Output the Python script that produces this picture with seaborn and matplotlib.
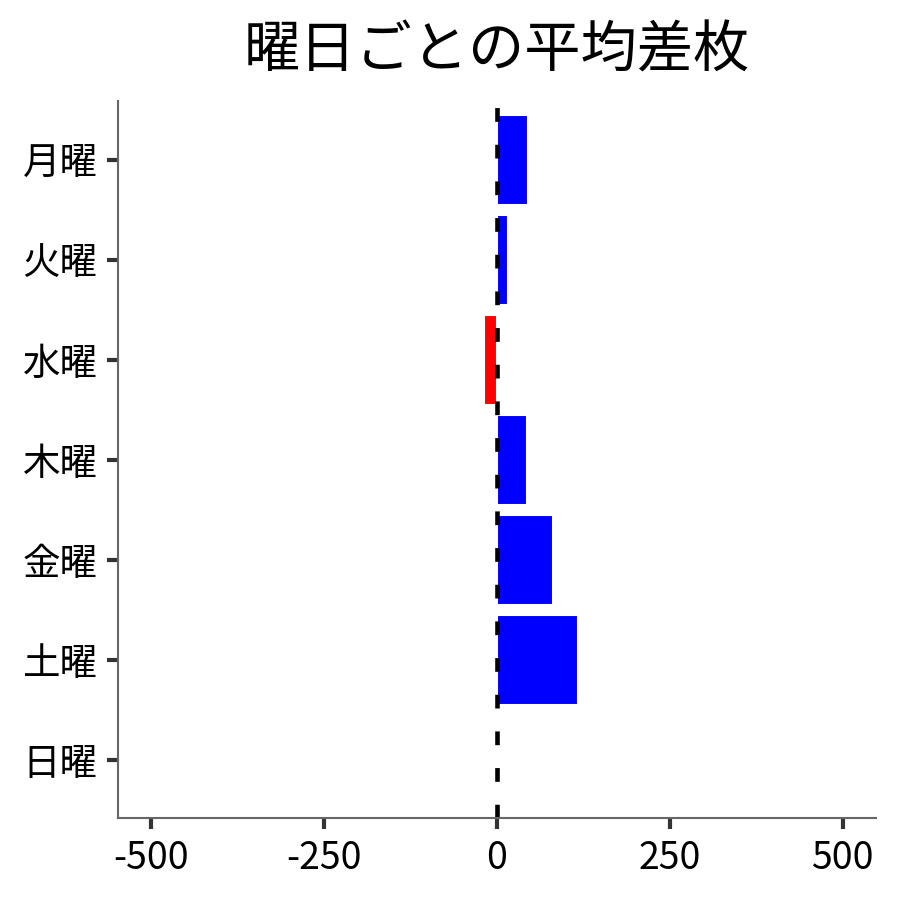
import numpy as np
import pandas as pd
import seaborn as sns
import matplotlib.pyplot as plt

# Data
days = ["月曜", "火曜", "水曜", "木曜", "金曜", "土曜", "日曜"]
avg_diff = [45, 16, -19, 43, 82, 117, 2]

dataset = pd.DataFrame({"曜日": days, "平均差枚": avg_diff})
bar_colors = ["#0000ff" if v >= 0 else "#ff0000" for v in avg_diff]

sns.set_style("white")
plt.rcParams["font.family"] = ["Noto Sans CJK JP", "DejaVu Sans"]
plt.rcParams["axes.unicode_minus"] = False

fig, ax = plt.subplots(figsize = (6, 6), dpi = 150)
fig.subplots_adjust(left = 0.131, right = 0.973, top = 0.888, bottom = 0.091)

sns.barplot(x = "平均差枚", y = "曜日", hue = "曜日", data = dataset, palette = bar_colors,
            orient = "h", width = 0.9, saturation = 1, legend = False, ax = ax)

ax.axvline(0, color = "black", linewidth = 2.2, dashes = (3, 5))

ax.set_xlim(-548, 548)
ax.set_ylim(6.58, -0.59)
ax.set_xticks([-500, -250, 0, 250, 500])
ax.set_xlabel("")
ax.set_ylabel("")
ax.set_title("曜日ごとの平均差枚", fontsize = 27, color = "black", pad = 16)

sns.despine(ax = ax)
for side in ["left", "bottom"]:
    ax.spines[side].set_color("#666666")
    ax.spines[side].set_linewidth(1)

ax.tick_params(axis = "both", labelsize = 18, length = 5.3, width = 2, color = "#333333",
               labelcolor = "black", pad = 4.5, left = True, bottom = True)

fig.savefig("out.png", dpi = 150)
